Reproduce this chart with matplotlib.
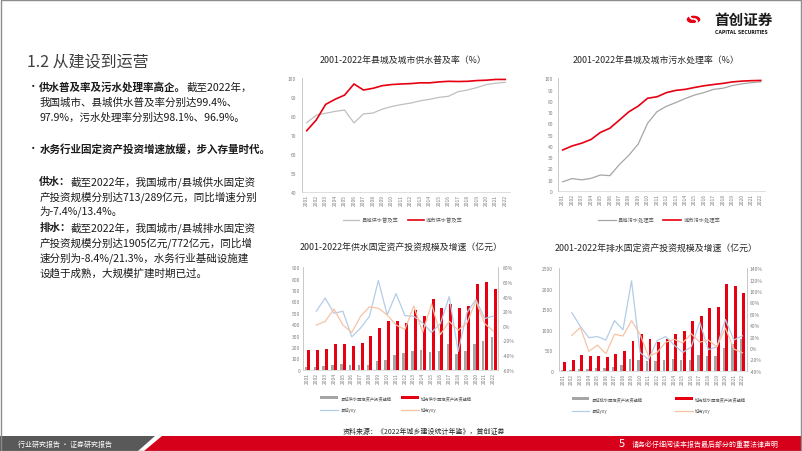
import numpy as np
import matplotlib
matplotlib.use('Agg')
from matplotlib import pyplot as plt
from matplotlib.patches import Polygon, Rectangle, Circle, Arc

plt.rcParams['font.family'] = ['Noto Sans CJK SC', 'DejaVu Sans']

W, H = 802, 452
nan = np.nan

years = ['2001', '2002', '2003', '2004', '2005', '2006', '2007', '2008', '2009', '2010', '2011',
         '2012', '2013', '2014', '2015', '2016', '2017', '2018', '2019', '2020', '2021', '2022']

# 供水普及率 (%)
county_supply = [76.5, 80.5, 81.5, 82.5, 83.2, 76.4, 81.2, 81.6, 83.7, 85.1, 86.1,
                 86.9, 88.1, 88.9, 89.9, 90.5, 92.9, 93.8, 95.1, 96.7, 97.4, 97.9]
city_supply = [72.3, 77.9, 86.2, 88.9, 91.1, 97.0, 93.8, 94.7, 96.1, 96.7, 97.0,
               97.2, 97.6, 97.6, 98.1, 98.4, 98.3, 98.4, 98.8, 99.0, 99.4, 99.4]

# 污水处理率 (%)
county_sewage = [8.2, 11.0, 9.9, 11.2, 14.2, 13.6, 23.4, 31.6, 41.6, 60.1, 70.4,
                 75.2, 78.5, 82.1, 85.2, 87.4, 90.2, 91.2, 93.6, 95.1, 96.1, 96.9]
city_sewage = [36.4, 40.0, 42.4, 45.7, 52.0, 55.7, 62.9, 70.2, 75.3, 82.3, 83.6,
               87.3, 89.3, 90.2, 91.9, 93.4, 94.5, 95.5, 96.8, 97.5, 97.9, 98.1]

# 供水固定资产投资 (亿元) 及增速
supply_inv_county = [20, 25, 35, 42, 48, 42, 40, 45, 75, 85, 125,
                     145, 165, 170, 155, 160, 225, 140, 165, 230, 255, 289]
supply_inv_city = [170, 172, 181, 225, 225, 205, 232, 295, 368, 427, 431,
                   410, 524, 475, 620, 545, 580, 543, 561, 750, 770, 713]
supply_yoy_county = [nan, 20, 38, 17, 20, -15, -3, 13, 62, 15, 44,
                     14, 13, 4, -9, 3, 40, -35, 18, 36, 10, 13.4]
supply_yoy_city = [nan, 1, 6, 23, 1, -9, 13, 26, 24, 15, 1,
                   -5, 27, -9, 30, -12, 6, -6, 4, 34, 3, -7.4]

# 排水固定资产投资 (亿元) 及增速
drain_inv_county = [10, 20, 40, 45, 55, 65, 100, 135, 290, 270, 230,
                    230, 270, 290, 270, 260, 380, 360, 370, 550, 640, 772]
drain_inv_city = [220, 265, 375, 350, 370, 330, 410, 490, 730, 900, 770,
                  710, 780, 900, 975, 1220, 1340, 1530, 1560, 2110, 2080, 1905]
drain_yoy_county = [nan, 62, 38, 18, 20, 14, 48, 32, 118, -8, -20,
                    13, 20, 5, -8, 2, 45, -3, 2, 50, 14, 21.3]
drain_yoy_city = [nan, 22, 36, -6, 5, -10, 24, 21, 48, 24, -15,
                  -8, 10, 15, 9, 25, 10, 14, 2, 35, -2, -8.4]

RED = '#E60012'
GRAY_LINE = '#BFBFBF'
GRAY_BAR = '#A5A5A5'
BLUE = '#B4CCE8'
ORANGE = '#F7C3A5'
TICK = '#7F7F7F'

fig = plt.figure(figsize=(W / 100, H / 100), dpi=100)


def px(x, y):
    return (x / W, 1 - y / H)


def ax_px(l, t, r, b):
    return fig.add_axes([l / W, 1 - b / H, (r - l) / W, (b - t) / H])


def style(ax, ypad, right=None):
    for s in ['top', 'right']:
        ax.spines[s].set_visible(False)
    ax.spines['left'].set_color('#BFBFBF')
    ax.spines['left'].set_linewidth(0.6)
    ax.spines['bottom'].set_color('#D9D9D9')
    ax.spines['bottom'].set_linewidth(0.6)
    ax.tick_params(axis='y', length=0, pad=ypad, labelsize=3.6, labelcolor=TICK)
    ax.tick_params(axis='x', length=0, pad=1.7, labelsize=3.6, labelcolor=TICK)
    ax.set_xticks(np.arange(22), years, rotation=90)
    ax.set_xlim(-0.5, 21.5)


x = np.arange(22)

# ---- 图1 供水普及率
ax1 = ax_px(302, 79.3, 510, 192.7)
l1, = ax1.plot(x, county_supply, color=GRAY_LINE, lw=0.9)
l2, = ax1.plot(x, city_supply, color=RED, lw=1.2)
ax1.set_ylim(40, 100)
ax1.set_yticks(range(40, 101, 10))
style(ax1, 4.3)
fig.text(*px(403, 60), '2001-2022年县城及城市供水普及率（%）', ha='center', va='center',
         fontsize=6.4, color='#262626')
fig.legend([l1, l2], ['县城供水普及率', '城市供水普及率'], loc='center',
           bbox_to_anchor=px(403, 220.7), ncol=2, frameon=False, fontsize=3.8,
           handlelength=3.0, handletextpad=0.4, columnspacing=1.9, labelcolor='#595959')

# ---- 图2 污水处理率
ax2 = ax_px(558, 79.3, 765.5, 192)
l3, = ax2.plot(x, county_sewage, color='#A6A6A6', lw=0.9)
l4, = ax2.plot(x, city_sewage, color=RED, lw=1.2)
ax2.set_ylim(0, 100)
ax2.set_yticks(range(0, 101, 10))
style(ax2, 3.6)
fig.text(*px(656, 60.7), '2001-2022年县城及城市污水处理率（%）', ha='center', va='center',
         fontsize=6.4, color='#262626')
fig.legend([l3, l4], ['县城污水处理率', '城市污水处理率'], loc='center',
           bbox_to_anchor=px(659, 220.7), ncol=2, frameon=False, fontsize=3.8,
           handlelength=3.4, handletextpad=0.4, columnspacing=1.7, labelcolor='#595959')

# ---- 图3 供水投资
ax3 = ax_px(303, 268.3, 498, 370.7)
b1 = ax3.bar(x - 0.17, supply_inv_county, width=0.28, color=GRAY_BAR)
b2 = ax3.bar(x + 0.17, supply_inv_city, width=0.34, color=RED)
ax3.set_ylim(0, 900)
ax3.set_yticks(range(0, 901, 100))
style(ax3, 2.0)
ax3t = ax3.twinx()
l5, = ax3t.plot(x, supply_yoy_county, color=BLUE, lw=0.9)
l6, = ax3t.plot(x, supply_yoy_city, color=ORANGE, lw=0.9)
ax3t.set_ylim(-60, 80)
ax3t.set_yticks(range(-60, 81, 20), [f'{v}%' for v in range(-60, 81, 20)])
for s in ['top', 'left', 'bottom']:
    ax3t.spines[s].set_visible(False)
ax3t.spines['right'].set_color('#BFBFBF')
ax3t.spines['right'].set_linewidth(0.6)
ax3t.tick_params(axis='y', length=0, pad=3.6, labelsize=3.6, labelcolor=TICK)
fig.text(*px(401, 248.3), '2001-2022年供水固定资产投资规模及增速（亿元）', ha='center',
         va='center', fontsize=6.4, color='#262626')
fig.legend([b1, l5, b2, l6], ['县城供水固定资产投资规模', '县城yoy', '城市供水固定资产投资规模', '城市yoy'],
           loc='center', bbox_to_anchor=px(396, 404.5), ncol=2, frameon=False, fontsize=3.1,
           handlelength=4.2, handletextpad=0.5, columnspacing=2.2, labelspacing=1.7,
           labelcolor='#595959')

# ---- 图4 排水投资
ax4 = ax_px(559, 269.3, 746.7, 371.7)
b3 = ax4.bar(x - 0.17, drain_inv_county, width=0.28, color=GRAY_BAR)
b4 = ax4.bar(x + 0.17, drain_inv_city, width=0.34, color=RED)
ax4.set_ylim(0, 2500)
ax4.set_yticks(range(0, 2501, 500))
style(ax4, 4.3)
ax4t = ax4.twinx()
l7, = ax4t.plot(x, drain_yoy_county, color=BLUE, lw=0.9)
l8, = ax4t.plot(x, drain_yoy_city, color=ORANGE, lw=0.9)
ax4t.set_ylim(-40, 140)
ax4t.set_yticks(range(-40, 141, 20), [f'{v}%' for v in range(-40, 141, 20)])
for s in ['top', 'left', 'bottom']:
    ax4t.spines[s].set_visible(False)
ax4t.spines['right'].set_color('#BFBFBF')
ax4t.spines['right'].set_linewidth(0.6)
ax4t.tick_params(axis='y', length=0, pad=2.4, labelsize=3.6, labelcolor=TICK)
fig.text(*px(656.5, 249), '2001-2022年排水固定资产投资规模及增速（亿元）', ha='center',
         va='center', fontsize=6.4, color='#262626')
fig.legend([b3, l7, b4, l8], ['县城排水固定资产投资规模', '县城yoy', '城市排水固定资产投资规模', '城市yoy'],
           loc='center', bbox_to_anchor=px(659, 405.5), ncol=2, frameon=False, fontsize=3.1,
           handlelength=4.0, handletextpad=0.5, columnspacing=7.6, labelspacing=1.7,
           labelcolor='#595959')

# ---- 左侧文字
renderer = fig.canvas.get_renderer()
TXT = 7.6


def put(xp, yp, parts):
    for s, bold in parts:
        t = fig.text(*px(xp, yp), s, fontsize=TXT, color='#1A1A1A', va='center',
                     fontweight='bold' if bold else 'normal')
        xp += t.get_window_extent(renderer).width


fig.text(*px(26.7, 61.7), '1.2 从建设到运营', fontsize=11.5, color='#404040', va='center')

fig.text(*px(28, 87.3), '•', fontsize=TXT, color='#1A1A1A', va='center')
put(39.3, 87.3, [('供水普及率及污水处理率高企。', True), ('截至2022年，', False)])
put(39.3, 102.3, [('我国城市、县城供水普及率分别达99.4%、', False)])
put(39.3, 117.3, [('97.9%，污水处理率分别达98.1%、96.9%。', False)])
fig.text(*px(28, 149), '•', fontsize=TXT, color='#1A1A1A', va='center')
put(39.3, 149, [('水务行业固定资产投资增速放缓，步入存量时代。', True)])
put(39.3, 182.3, [('供水：', True), ('截至2022年，我国城市/县城供水固定资', False)])
put(39.3, 197.3, [('产投资规模分别达713/289亿元，同比增速分别', False)])
put(39.3, 211.7, [('为-7.4%/13.4%。', False)])
put(39.3, 228.3, [('排水：', True), ('截至2022年，我国城市/县城排水固定资', False)])
put(39.3, 243.3, [('产投资规模分别达1905亿元/772亿元，同比增', False)])
put(39.3, 258.3, [('速分别为-8.4%/21.3%，水务行业基础设施建', False)])
put(39.3, 273.3, [('设趋于成熟，大规模扩建时期已过。', False)])

# ---- 资料来源
fig.text(*px(424, 432), '资料来源：《2022年城乡建设统计年鉴》，首创证券', ha='center', va='center',
         fontsize=5, color='#262626')

# ---- 页脚
fig.add_artist(Polygon([px(0, 437), px(155, 437), px(138, 452), px(0, 452)], closed=True,
                       facecolor='#595959', edgecolor='none', transform=fig.transFigure))
fig.add_artist(Polygon([px(162, 437), px(802, 437), px(802, 452), px(144, 452)], closed=True,
                       facecolor='#D7001A', edgecolor='none', transform=fig.transFigure))
fig.text(*px(18, 444.5), '行业研究报告 · 证券研究报告', fontsize=5, color='white', va='center')
fig.text(*px(619, 444.5), '5', fontsize=8, color='white', va='center')
fig.text(*px(632, 444.5), '请务必仔细阅读本报告最后部分的重要法律声明', fontsize=5, color='white',
         va='center')

# ---- 边框
fig.add_artist(Rectangle((0.5 / W, 0), 1 - 1.5 / W, 1 - 1 / H, fill=False, edgecolor='#8C8C8C',
                         lw=1, transform=fig.transFigure))

# ---- logo
fig.add_artist(Circle(px(693.5, 20.5), 6.8 / W, facecolor=RED, edgecolor='none',
                      transform=fig.transFigure))
fig.add_artist(Arc(px(693.5, 17.5), 7 / W, 5 / H, theta1=60, theta2=270, color='white', lw=1.3,
                   transform=fig.transFigure))
fig.add_artist(Arc(px(693.5, 22.5), 7 / W, 5 / H, theta1=-120, theta2=90, color='white', lw=1.3,
                   transform=fig.transFigure))
fig.text(*px(714, 20), '首创证券', fontsize=10.5, fontweight='bold', color='#1A1A1A', va='center')
fig.text(*px(715, 33), 'CAPITAL SECURITIES', fontsize=3.3, fontweight='bold', color='#1A1A1A',
         va='center', family='DejaVu Sans')

fig.savefig('out.png', dpi=100)
